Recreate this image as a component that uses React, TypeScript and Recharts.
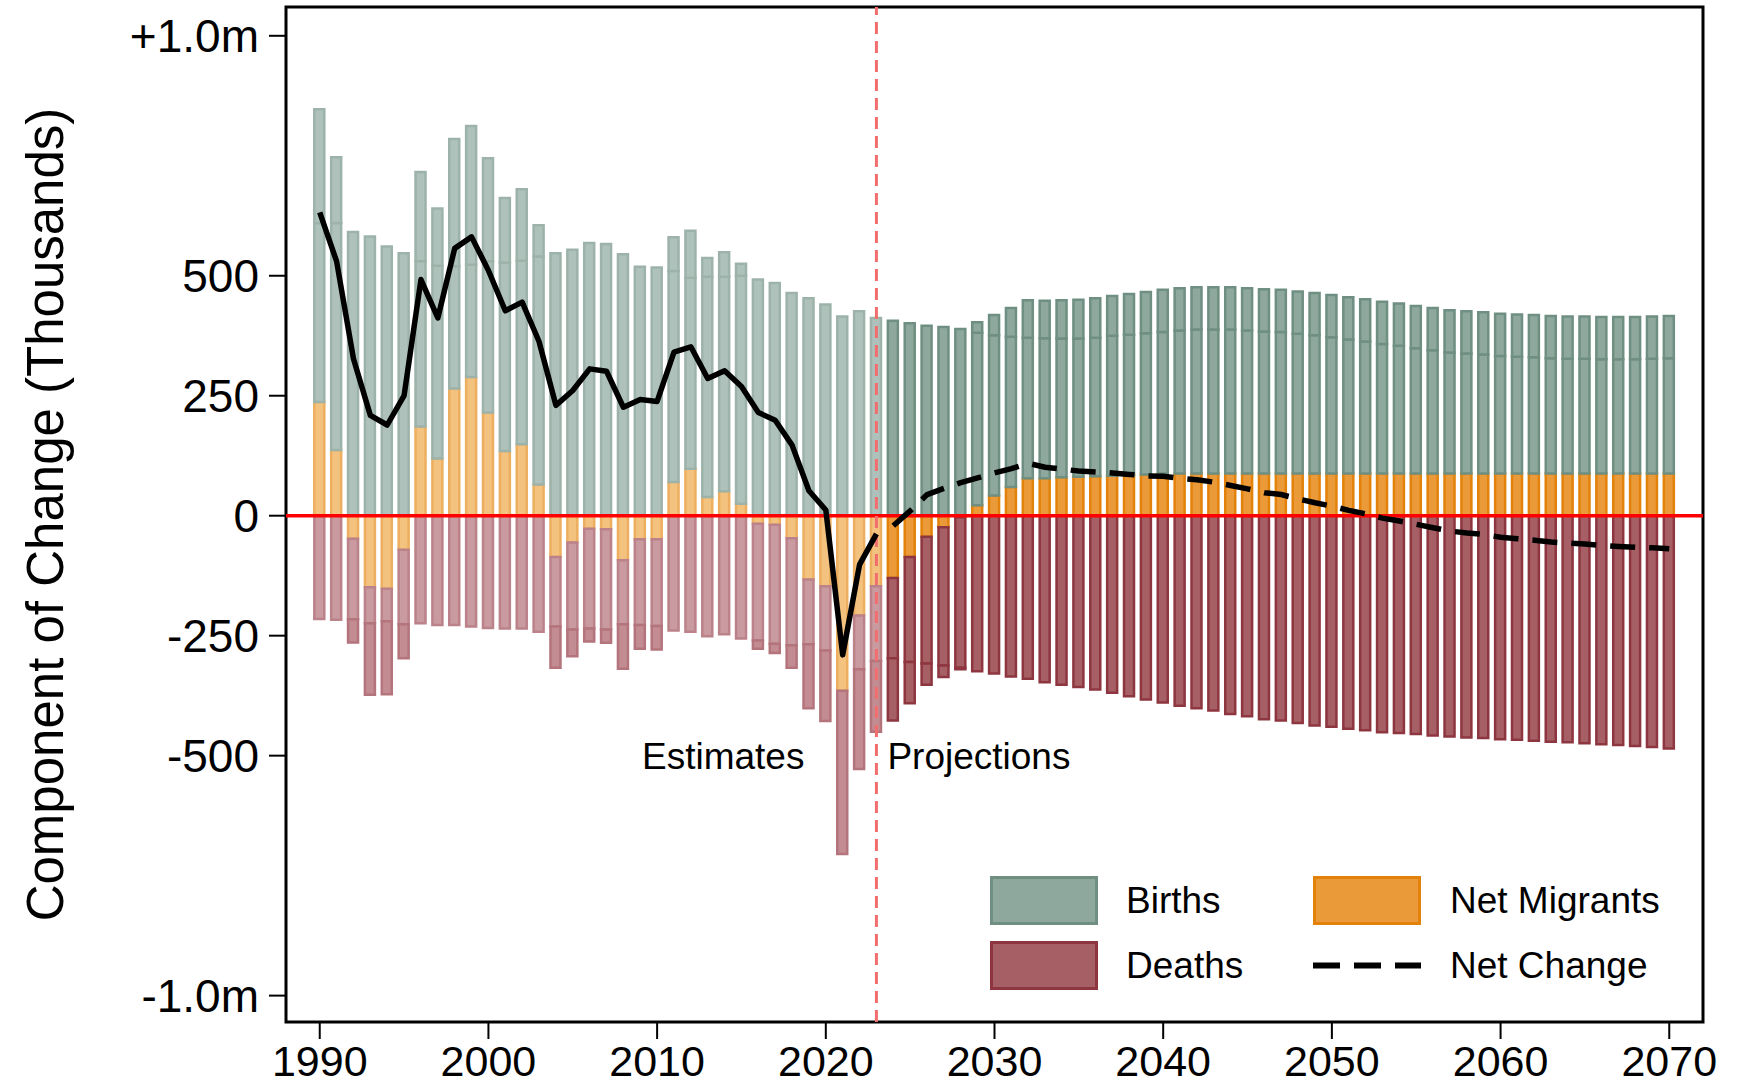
import React from "react";
import {
    ComposedChart,
    Bar,
    Line,
    XAxis,
    YAxis,
    Cell,
    ReferenceLine,
    ReferenceArea,
    ReferenceDot,
} from "recharts";

const FONT = '"Liberation Sans", Arial, Helvetica, sans-serif';

const years = [
    1990, 1991, 1992, 1993, 1994, 1995, 1996, 1997, 1998, 1999,
    2000, 2001, 2002, 2003, 2004, 2005, 2006, 2007, 2008, 2009,
    2010, 2011, 2012, 2013, 2014, 2015, 2016, 2017, 2018, 2019,
    2020, 2021, 2022, 2023, 2024, 2025, 2026, 2027, 2028, 2029,
    2030, 2031, 2032, 2033, 2034, 2035, 2036, 2037, 2038, 2039,
    2040, 2041, 2042, 2043, 2044, 2045, 2046, 2047, 2048, 2049,
    2050, 2051, 2052, 2053, 2054, 2055, 2056, 2057, 2058, 2059,
    2060, 2061, 2062, 2063, 2064, 2065, 2066, 2067, 2068, 2069,
    2070,
];

// thousands
const births = [
    610, 610, 591, 582, 561, 547, 530, 521, 520, 523,
    530, 527, 531, 540, 547, 554, 568, 566, 545, 519,
    517, 510, 496, 498, 498, 500, 492, 485, 464, 453,
    440, 415, 426, 412, 406, 401, 396, 393, 389, 381,
    376, 373, 371, 370, 369, 369, 371, 375, 377, 380,
    383, 386, 388, 388, 388, 386, 384, 383, 379, 376,
    372, 367, 363, 358, 354, 349, 345, 340, 338, 336,
    333, 331, 330, 328, 327, 327, 326, 326, 326, 327,
    328,
];

const deaths = [
    215, 217, 216, 224, 220, 226, 224, 228, 228, 231,
    234, 235, 235, 242, 231, 237, 235, 237, 226, 228,
    230, 239, 242, 251, 247, 256, 260, 267, 270, 268,
    281, 340, 320, 303, 297, 305, 308, 312, 317, 324,
    329, 335, 340, 347, 352, 357, 362, 369, 376, 383,
    389, 396, 401, 406, 413, 418, 424, 427, 432, 437,
    440, 444, 447, 451, 453, 455, 458, 460, 462, 463,
    466, 467, 469, 471, 472, 474, 476, 478, 480, 482,
    485,
];

const netMigrants = [
    237, 137, -48, -149, -152, -71, 186, 119, 265, 289,
    215, 135, 149, 65, -86, -56, -27, -28, -93, -49,
    -49, 70, 98, 39, 51, 25, -17, -19, -47, -133,
    -147, -365, -208, -147, -130, -86, -44, -24, -3, 22,
    42, 60, 78, 78, 80, 81, 82, 83, 85, 86,
    88, 88, 88, 88, 88, 88, 88, 88, 88, 88,
    88, 88, 88, 88, 88, 88, 88, 88, 88, 88,
    88, 88, 88, 88, 88, 88, 88, 88, 88, 88,
    88,
];

const netChange = [
    632, 530, 327, 209, 189, 250, 492, 412, 557, 581,
    511, 427, 445, 363, 230, 261, 306, 301, 226, 242,
    238, 341, 352, 286, 302, 269, 215, 199, 147, 52,
    12, -290, -102, -38, -21, 10, 44, 57, 69, 79,
    89, 98, 109, 101, 97, 93, 91, 89, 86, 83,
    82, 78, 75, 70, 63, 56, 48, 44, 35, 27,
    20, 11, 4, -5, -11, -18, -25, -32, -36, -39,
    -45, -48, -51, -55, -57, -59, -62, -64, -66, -67,
    -69,
];

const lastEstimateYear = 2023;
const xTicks = [1990, 2000, 2010, 2020, 2030, 2040, 2050, 2060, 2070];
const yTicks = [-1000, -500, -250, 0, 250, 500, 1000];

const colors = {
    est: {
        births: { fill: "#aec2bb", stroke: "#9db3aa" },
        birthsHi: { fill: "#aec2bb", stroke: "#9db3aa" },
        deaths: { fill: "#c99aa0", stroke: "#bb828a" },
        deathsHi: { fill: "#c28c92", stroke: "#b4747c" },
        migrants: { fill: "#f3c27f", stroke: "#edaf5f" },
    },
    proj: {
        births: { fill: "#8fa89d", stroke: "#6f8f82" },
        birthsHi: { fill: "#8fa89d", stroke: "#6f8f82" },
        deaths: { fill: "#a75f66", stroke: "#8e3640" },
        deathsHi: { fill: "#a75f66", stroke: "#8e3640" },
        migrants: { fill: "#eb9a3a", stroke: "#e3820a" },
    },
};

// births sit on top of positive migration, deaths below negative migration;
// each is split where the un-stacked value would have ended
const rows = years.map((year, i) => {
    const b = births[i];
    const d = deaths[i];
    const m = netMigrants[i];
    const bLow = m > 0 ? Math.max(b - m, 0) : b;
    const dLow = m < 0 ? Math.max(d + m, 0) : d;
    return {
        year,
        migrants: m,
        birthsLow: bLow,
        birthsHigh: b - bLow,
        deathsLow: -dLow,
        deathsHigh: -(d - dLow),
        netEst: year <= lastEstimateYear ? netChange[i] : null,
        netProj: year > lastEstimateYear ? netChange[i] : null,
        phase: year <= lastEstimateYear ? "est" : "proj",
    };
});

const yFmt = (v: number) => {
    if (v === 1000) return "+1.0m";
    if (v === -1000) return "-1.0m";
    return String(v);
};

const cells = (key: "births" | "birthsHi" | "deaths" | "deathsHi" | "migrants") =>
    rows.map((r) => {
        const c = (colors as any)[r.phase][key];
        return <Cell key={`${key}-${r.year}`} fill={c.fill} stroke={c.stroke} />;
    });

function LegendBox() {
    const text: React.CSSProperties = {
        position: "absolute",
        fontFamily: FONT,
        fontSize: 37,
        lineHeight: "49px",
        height: 49,
        color: "#000",
        whiteSpace: "nowrap",
    };
    const swatch = (bg: string, border: string): React.CSSProperties => ({
        position: "absolute",
        width: 108,
        height: 49,
        boxSizing: "border-box",
        background: bg,
        border: `3px solid ${border}`,
    });
    return (
        <>
            <div style={{ ...swatch("#8fa89d", "#6f8f82"), left: 990, top: 876 }} />
            <div style={{ ...text, left: 1126, top: 876 }}>Births</div>
            <div style={{ ...swatch("#a75f66", "#8e3640"), left: 990, top: 941 }} />
            <div style={{ ...text, left: 1126, top: 941 }}>Deaths</div>
            <div style={{ ...swatch("#eb9a3a", "#e3820a"), left: 1313, top: 876 }} />
            <div style={{ ...text, left: 1450, top: 876 }}>Net Migrants</div>
            <svg
                width={108}
                height={49}
                style={{ position: "absolute", left: 1313, top: 941 }}
            >
                <line x1={0} y1={24.5} x2={108} y2={24.5} stroke="#000" strokeWidth={6} strokeDasharray="27 14" />
            </svg>
            <div style={{ ...text, left: 1450, top: 941 }}>Net Change</div>
        </>
    );
}

export default function App() {
    return (
        <div
            style={{
                position: "absolute",
                left: 0,
                top: 0,
                width: 1752,
                height: 1089,
                background: "#fff",
            }}
        >
            <ComposedChart
                width={1752}
                height={1089}
                data={rows}
                stackOffset="sign"
                margin={{ top: 7, right: 49, bottom: 0, left: 0 }}
            >
                <XAxis
                    dataKey="year"
                    type="number"
                    domain={[1988, 2072]}
                    ticks={xTicks}
                    allowDataOverflow
                    height={67}
                    axisLine={false}
                    tickSize={17}
                    tickMargin={6}
                    tickLine={{ stroke: "#000", strokeWidth: 2 }}
                    tick={{ fill: "#000", fontSize: 43, fontFamily: FONT }}
                />
                <YAxis
                    type="number"
                    domain={[-1055, 1060]}
                    ticks={yTicks}
                    allowDataOverflow
                    width={286}
                    axisLine={false}
                    tickSize={17}
                    tickMargin={10}
                    tickLine={{ stroke: "#000", strokeWidth: 2 }}
                    tickFormatter={yFmt}
                    tick={{ fill: "#000", fontSize: 46, fontFamily: FONT }}
                    label={{
                        value: "Component of Change (Thousands)",
                        angle: -90,
                        position: "insideLeft",
                        offset: 45,
                        style: { textAnchor: "middle", fill: "#000", fontSize: 51, fontFamily: FONT },
                    }}
                />

                <Bar dataKey="migrants" stackId="s" barSize={10} strokeWidth={2.5} isAnimationActive={false}>
                    {cells("migrants")}
                </Bar>
                <Bar dataKey="birthsLow" stackId="s" barSize={10} strokeWidth={2.5} isAnimationActive={false}>
                    {cells("births")}
                </Bar>
                <Bar dataKey="birthsHigh" stackId="s" barSize={10} strokeWidth={2.5} isAnimationActive={false}>
                    {cells("birthsHi")}
                </Bar>
                <Bar dataKey="deathsLow" stackId="s" barSize={10} strokeWidth={2.5} isAnimationActive={false}>
                    {cells("deaths")}
                </Bar>
                <Bar dataKey="deathsHigh" stackId="s" barSize={10} strokeWidth={2.5} isAnimationActive={false}>
                    {cells("deathsHi")}
                </Bar>

                <ReferenceLine y={0} stroke="#ff0000" strokeWidth={3.5} />
                <ReferenceLine x={lastEstimateYear} stroke="#f26d6d" strokeWidth={3} strokeDasharray="12 7" />

                <Line
                    dataKey="netEst"
                    stroke="#000"
                    strokeWidth={5.5}
                    dot={false}
                    activeDot={false}
                    strokeLinejoin="round"
                    isAnimationActive={false}
                />
                <Line
                    dataKey="netProj"
                    stroke="#000"
                    strokeWidth={5.5}
                    strokeDasharray="25 14"
                    dot={false}
                    activeDot={false}
                    isAnimationActive={false}
                />

                <ReferenceDot
                    x={lastEstimateYear}
                    y={-500}
                    r={0}
                    fill="none"
                    stroke="none"
                    label={{ value: "Estimates", position: "left", offset: 72, fill: "#000", fontSize: 37, fontFamily: FONT }}
                />
                <ReferenceDot
                    x={lastEstimateYear}
                    y={-500}
                    r={0}
                    fill="none"
                    stroke="none"
                    label={{ value: "Projections", position: "right", offset: 11, fill: "#000", fontSize: 37, fontFamily: FONT }}
                />

                <ReferenceArea
                    x1={1988}
                    x2={2072}
                    y1={-1055}
                    y2={1060}
                    fill="none"
                    fillOpacity={0}
                    stroke="#000"
                    strokeWidth={3}
                />
            </ComposedChart>
            <LegendBox />
        </div>
    );
}
